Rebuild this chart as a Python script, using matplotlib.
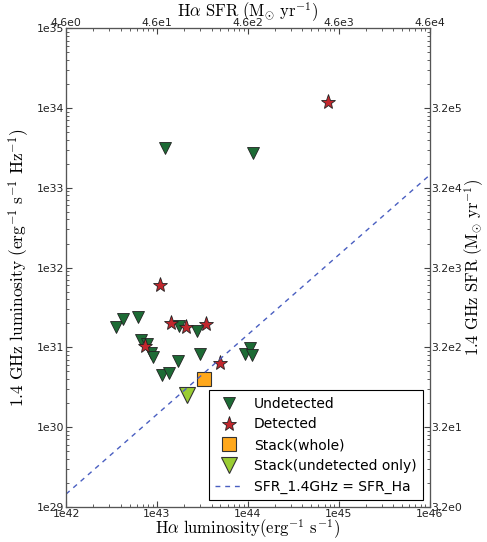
import numpy as np
import matplotlib
matplotlib.use("Agg")
import matplotlib.pyplot as plt
from matplotlib.ticker import FixedLocator, FuncFormatter, LogLocator, NullFormatter

plt.rcParams["mathtext.fontset"] = "cm"
plt.rcParams["xtick.direction"] = "in"
plt.rcParams["ytick.direction"] = "in"

# log10 of luminosities
undet_lha = [42.55, 42.63, 42.79, 42.82, 42.89, 42.93, 42.96, 43.23, 43.47, 43.06,
             43.13, 43.24, 43.44, 43.97, 44.02, 44.05, 43.09, 44.06]
undet_l14 = [31.26, 31.35, 31.38, 31.09, 31.04, 30.93, 30.88, 30.83, 30.91, 30.65,
             30.68, 31.27, 31.20, 30.92, 30.99, 30.90, 33.50, 33.44]
det_lha = [43.03, 43.16, 43.32, 43.54, 42.87, 43.69, 44.88]
det_l14 = [31.78, 31.30, 31.26, 31.29, 31.02, 30.80, 34.07]
stack_whole = (43.52, 30.60)
stack_undet = (43.33, 30.40)

# SFR conversions
ha_sfr_factor = 4.6e-42
r14_sfr_factor = 1.0 / 3.125e28

fig = plt.figure(figsize=(4.87, 5.42), dpi=100)
ax = fig.add_axes([0.1355, 0.0651, 0.7465, 0.8827])

ax.plot(10 ** np.array(undet_lha), 10 ** np.array(undet_l14), "v", color="#1d6b35",
        mec="#222222", mew=0.6, ms=8.5, ls="none", label="Undetected")
ax.plot(10 ** np.array(det_lha), 10 ** np.array(det_l14), "*", color="#c1272d",
        mec="#222222", mew=0.6, ms=11, ls="none", label="Detected")
ax.plot(10 ** stack_whole[0], 10 ** stack_whole[1], "s", color="#ffa81c",
        mec="#333333", mew=0.8, ms=10, ls="none", label="Stack(whole)")
ax.plot(10 ** stack_undet[0], 10 ** stack_undet[1], "v", color="#9acd32",
        mec="#333333", mew=0.8, ms=11.5, ls="none", label="Stack(undetected only)")

lx = np.logspace(42, 46, 50)
ax.plot(lx, lx * ha_sfr_factor / r14_sfr_factor, ls=(0, (3.5, 3.5)), color="#4a5fc1", lw=1.0,
        label="SFR_1.4GHz = SFR_Ha")

ax.set_xscale("log")
ax.set_yscale("log")
ax.set_xlim(1e42, 1e46)
ax.set_ylim(1e29, 1e35)

fmt = FuncFormatter(lambda v, p: "1e%d" % round(np.log10(v)))
ax.xaxis.set_major_formatter(fmt)
ax.yaxis.set_major_formatter(fmt)
ax.xaxis.set_minor_locator(LogLocator(base=10, subs=np.arange(2, 10)))
ax.yaxis.set_minor_locator(LogLocator(base=10, subs=np.arange(2, 10)))
ax.tick_params(which="major", length=4, labelsize=7.8, pad=1.5, color="#444444", labelcolor="#222222")
ax.tick_params(which="minor", length=2, color="#444444")

ax.set_xlabel(r"$\mathrm{H\alpha\ luminosity(erg^{-1}\ s^{-1})}$", fontsize=12, labelpad=-1)
ax.set_ylabel(r"$\mathrm{1.4\ GHz\ luminosity\ (erg^{-1}\ s^{-1}\ Hz^{-1})}$", fontsize=12.5, labelpad=3)

# top axis: Ha SFR
top = ax.twiny()
top.set_xscale("log")
top.set_xlim(1e42 * ha_sfr_factor, 1e46 * ha_sfr_factor)
top_ticks = [4.6, 46, 460, 4600, 46000]
top.xaxis.set_major_locator(FixedLocator(top_ticks))
top.xaxis.set_major_formatter(FuncFormatter(lambda v, p: "4.6e%d" % round(np.log10(v / 4.6))))
top.xaxis.set_minor_locator(FixedLocator([t * s for t in [4.6, 46, 460, 4600] for s in range(2, 10)]))
top.xaxis.set_minor_formatter(NullFormatter())
top.tick_params(which="major", length=4, labelsize=7.8, pad=0.5, color="#444444", labelcolor="#222222")
top.tick_params(which="minor", length=2, color="#444444")
top.set_xlabel(r"$\mathrm{H\alpha\ SFR\ (M_{\odot}\ yr^{-1})}$", fontsize=12, labelpad=0)

# right axis: 1.4GHz SFR
right = ax.twinx()
right.set_yscale("log")
right.set_ylim(1e29 * r14_sfr_factor, 1e35 * r14_sfr_factor)
right_ticks = [3.2, 32, 320, 3200, 32000, 320000]
right.yaxis.set_major_locator(FixedLocator(right_ticks))
right.yaxis.set_major_formatter(FuncFormatter(lambda v, p: "3.2e%d" % round(np.log10(v / 3.2))))
right.yaxis.set_minor_locator(FixedLocator([t * s for t in [3.2, 32, 320, 3200, 32000, 320000] for s in range(2, 10)]))
right.yaxis.set_minor_formatter(NullFormatter())
right.tick_params(which="major", length=4, labelsize=7.8, pad=1.5, color="#444444", labelcolor="#222222")
right.tick_params(which="minor", length=2, color="#444444")
right.set_ylabel(r"$\mathrm{1.4\ GHz\ SFR\ (M_{\odot}\ yr^{-1})}$", fontsize=12, labelpad=0)

for a in (ax, top, right):
    for s in a.spines.values():
        s.set_color("#555555")

leg = ax.legend(loc="lower right", numpoints=1, fontsize=10, fancybox=False,
                framealpha=1, edgecolor="black", borderpad=0.45, labelspacing=0.48,
                handletextpad=0.8, borderaxespad=0.5)
leg.get_frame().set_linewidth(0.8)

fig.savefig("out.png", dpi=100)
